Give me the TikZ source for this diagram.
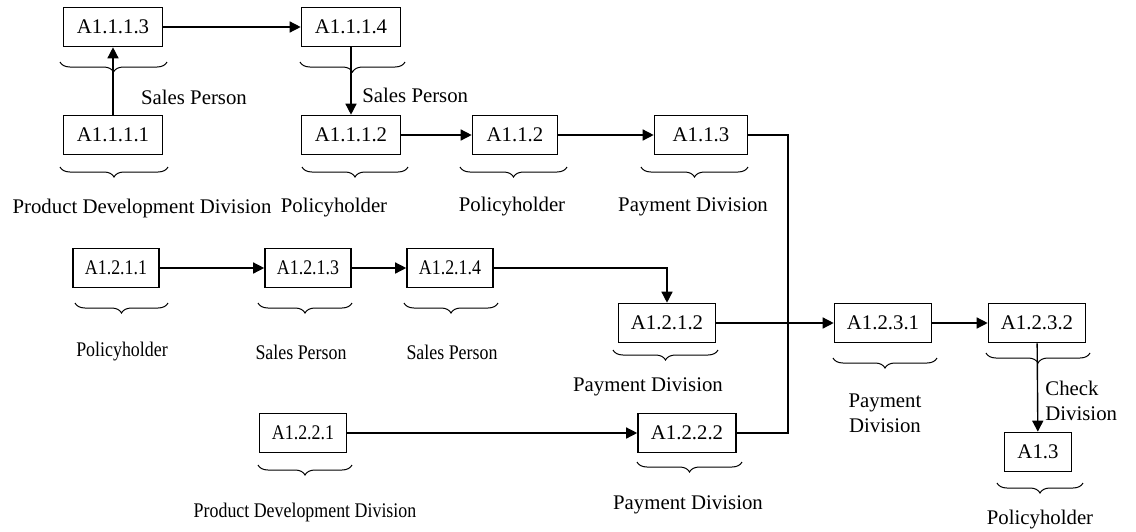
\documentclass[tikz,border=0pt]{standalone}
\usepackage{fontspec}
\setmainfont{Liberation Serif}
\newfontfamily\narrowfont{Liberation Serif}[FakeStretch=0.86]
\usetikzlibrary{arrows.meta,decorations.pathreplacing}

\begin{document}
\begin{tikzpicture}[x=0.5pt,y=-0.5pt,
	font=\fontsize{10.4}{12.5}\selectfont,
	box/.style={draw,line width=0.8pt,rectangle,minimum height=19.5pt,minimum width=#1,inner sep=0pt},
	box/.default=49.5pt,
	narrow/.style={font=\narrowfont\fontsize{10.4}{12.5}\selectfont},
	brc/.style={decorate,decoration={brace,mirror,amplitude=5pt},line width=0.5pt},
	flow/.style={line width=0.7pt,-{Triangle[length=5.5pt,width=5.5pt]}},
	wire/.style={line width=0.7pt}]
\useasboundingbox (0,0) rectangle (1136,531);

% activity boxes
\node [box] (a1113) at (113,27) {A1.1.1.3};
\node [box] (a1111) at (113,135) {A1.1.1.1};
\node [box] (a1114) at (351,27) {A1.1.1.4};
\node [box] (a1112) at (351,135) {A1.1.1.2};
\node [box=42.5pt] (a112) at (515,135) {A1.1.2};
\node [box=46.5pt] (a113) at (701,135) {A1.1.3};
\node [box=43pt,narrow] (a1211) at (116,268) {A1.2.1.1};
\node [box=43pt,narrow] (a1213) at (308,268) {A1.2.1.3};
\node [box=43pt,narrow] (a1214) at (450,268) {A1.2.1.4};
\node [box=48.5pt] (a1212) at (667,323) {A1.2.1.2};
\node [box=48.5pt] (a1231) at (883,323) {A1.2.3.1};
\node [box=48.5pt] (a1232) at (1037,323) {A1.2.3.2};
\node [box=33.5pt] (a13) at (1038,452) {A1.3};
\node [box=43.5pt,narrow] (a1221) at (303,433) {A1.2.2.1};
\node [box=49pt] (a1222) at (687,433) {A1.2.2.2};

% braces
\foreach \a/\b/\c in {60/167/62, 60/168/167, 300/405/62, 302/408/167, 460/567/167,
	641/748/167, 75/168/303, 258/352/303, 404/498/303, 613/718/350,
	833/937/358, 986/1090/353, 258/352/465, 637/742/462, 997/1083/483}
	\draw [brc] (\a,\c) -- (\b,\c);

% roles
\node (r1) at (194,97) {Sales Person};
\node (r2) at (142,208) {Product Development Division};
\node [anchor=west,inner sep=0pt] (r3) at (362,95) {Sales Person};
\node (r4) at (334,208) {Policyholder};
\node (r5) at (512,207) {Policyholder};
\node (r6) at (693,207) {Payment Division};
\node [narrow] (r7) at (122,352) {Policyholder};
\node [narrow] (r8) at (301,352) {Sales Person};
\node [narrow] (r9) at (452,352) {Sales Person};
\node (r10) at (648,387) {Payment Division};
\node [align=center] (r11) at (885,413) {Payment\\Division};
\node [align=left,anchor=west,inner sep=0pt] (r12) at (1045,401) {Check\\Division};
\node (r13) at (1040,520) {Policyholder};
\node [narrow] (r14) at (305,512) {Product Development Division};
\node (r15) at (688,505) {Payment Division};

% flows
\draw [flow] (a1111) -- (a1113);
\draw [flow] (a1113) -- (a1114);
\draw [flow] (a1114) -- (a1112);
\draw [flow] (a1112) -- (a112);
\draw [flow] (a112) -- (a113);
\draw [flow] (a1211) -- (a1213);
\draw [flow] (a1213) -- (a1214);
\draw [flow] (a1214) -| (a1212);
\draw [flow] (a1221) -- (a1222);
\draw [flow] (a1212) -- (a1231);
\draw [flow] (a1231) -- (a1232);
\draw [flow] (a1232) -- (a13);
\coordinate (jn) at (788,323);
\draw [wire] (a113) -| (jn) |- (a1222);
\end{tikzpicture}
\end{document}
